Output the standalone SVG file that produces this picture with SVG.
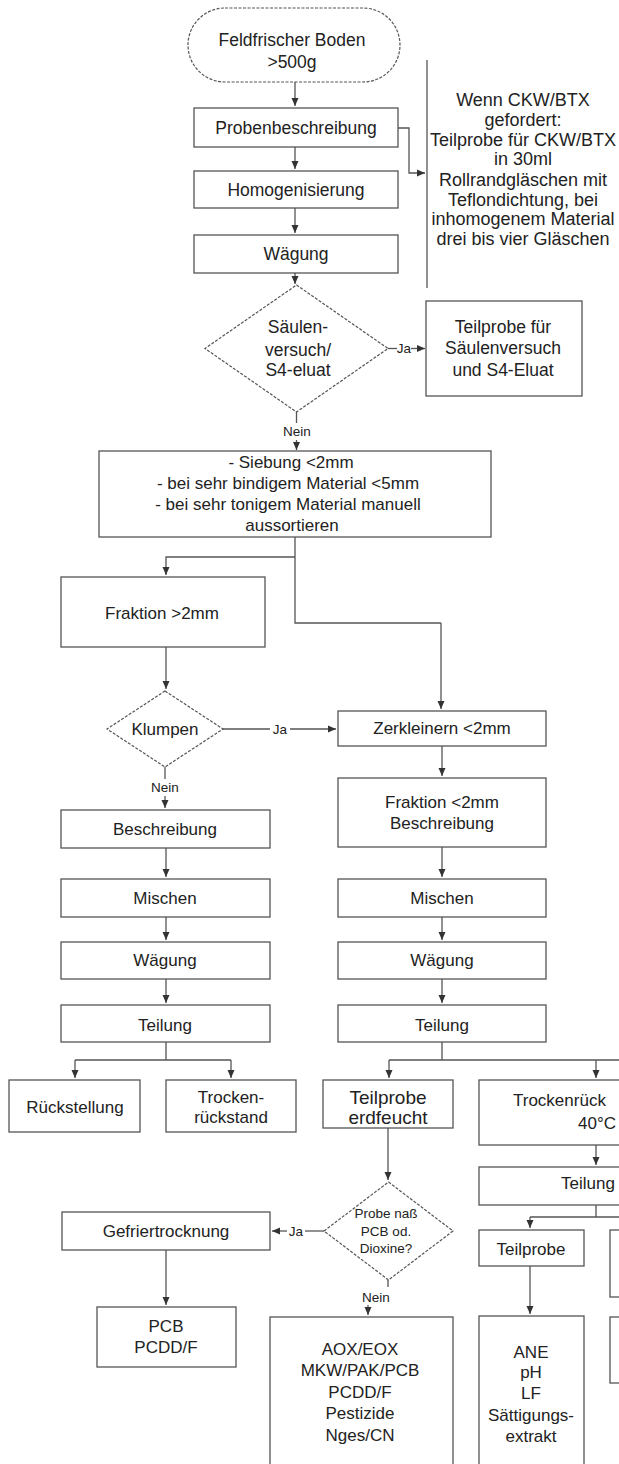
<svg xmlns="http://www.w3.org/2000/svg" width="619" height="1464" viewBox="0 0 619 1464">
<style>
  .b{fill:#fff;stroke:#555;stroke-width:1.3}
  .d{fill:#fff;stroke:#555;stroke-width:1.2;stroke-dasharray:3 1.5}
  .c{fill:none;stroke:#555;stroke-width:1.3}
  .a{marker-end:url(#ah)}
  text{font-family:"Liberation Sans",Arial,sans-serif;fill:#222;text-anchor:middle}
  .t{font-size:17px}
  .tl{font-size:17.5px}
  .tn{font-size:18px}
  .ts{font-size:13.5px}
  .tm{font-size:19px}
  .st{text-anchor:start}
</style>
<defs>
  <marker id="ah" markerUnits="userSpaceOnUse" markerWidth="8" markerHeight="8" refX="8" refY="4" orient="auto">
    <path d="M0,0.5 L8,4 L0,7.5 z" fill="#333"/>
  </marker>
</defs>
<rect width="619" height="1464" fill="#fff"/>

<g id="connectors">
  <path class="c a" d="M295,82 V106"/>
  <path class="c a" d="M295,147 V169"/>
  <path class="c a" d="M295,208 V233"/>
  <path class="c a" d="M295,273 V284"/>
  <path class="c a" d="M398,128 H409 V173 H425"/>
  <path class="c" d="M388,348.5 H397"/>
  <path class="c a" d="M411,348.5 H425"/>
  <path class="c" d="M296.5,412 V423"/>
  <path class="c a" d="M296.5,440 V450"/>
  <path class="c" d="M295,537 V623 H441"/>
  <path class="c a" d="M295,557 H166 V575"/>
  <path class="c a" d="M441,623 V709"/>
  <path class="c a" d="M166,647 V689"/>
  <path class="c" d="M223,729 H270"/>
  <path class="c a" d="M290,729 H336"/>
  <path class="c" d="M165,767 V779"/>
  <path class="c a" d="M165,796 V808"/>
  <path class="c a" d="M442,746 V776"/>
  <path class="c a" d="M166,848 V877"/>
  <path class="c a" d="M442,847 V877"/>
  <path class="c a" d="M166,917 V940"/>
  <path class="c a" d="M442,917 V940"/>
  <path class="c a" d="M166,979 V1003"/>
  <path class="c a" d="M442,979 V1003"/>
  <path class="c" d="M166,1042 V1060 M75,1060 H231"/>
  <path class="c a" d="M75,1060 V1078"/>
  <path class="c a" d="M231,1060 V1078"/>
  <path class="c" d="M442,1042 V1060 M389,1060 H619"/>
  <path class="c a" d="M389,1060 V1078"/>
  <path class="c a" d="M596,1060 V1078"/>
  <path class="c a" d="M596,1145 V1165"/>
  <path class="c" d="M596,1205 V1217 M530,1217 H619"/>
  <path class="c a" d="M530,1217 V1228"/>
  <path class="c a" d="M530,1266 V1314"/>
  <path class="c a" d="M388,1128 V1180"/>
  <path class="c" d="M324,1231 H305"/>
  <path class="c a" d="M287,1231 H272"/>
  <path class="c" d="M388,1280 V1287"/>
  <path class="c a" d="M368,1305 V1315"/>
  <path class="c a" d="M166,1250 V1305"/>
  <text class="ts" x="404" y="353">Ja</text>
  <text class="ts" x="297" y="436">Nein</text>
  <text class="ts" x="280" y="734">Ja</text>
  <text class="ts" x="165" y="792">Nein</text>
  <text class="ts" x="296" y="1236">Ja</text>
  <text class="ts" x="376" y="1302">Nein</text>
</g>

<g id="start">
  <rect class="d" x="188" y="8" width="212" height="74" rx="37" ry="37"/>
  <text class="tl" x="292" y="46">Feldfrischer Boden</text>
  <text class="tl" x="292" y="68">&gt;500g</text>
</g>
<g id="probenbeschreibung">
  <rect class="b" x="194" y="108" width="204" height="39"/>
  <text class="tl" x="296" y="134">Probenbeschreibung</text>
</g>
<g id="homogenisierung">
  <rect class="b" x="194" y="171" width="204" height="37"/>
  <text class="tl" x="296" y="196">Homogenisierung</text>
</g>
<g id="waegung1">
  <rect class="b" x="194" y="235" width="204" height="38"/>
  <text class="tl" x="296" y="260">Wägung</text>
</g>
<g id="note-ckw">
  <path class="c" d="M427,60 V288"/>
  <text class="tn" x="523" y="106">Wenn CKW/BTX</text>
  <text class="tn" x="523" y="126">gefordert:</text>
  <text class="tn" x="523" y="146">Teilprobe für CKW/BTX</text>
  <text class="tn" x="523" y="165">in 30ml</text>
  <text class="tn" x="523" y="186">Rollrandgläschen mit</text>
  <text class="tn" x="523" y="206">Teflondichtung, bei</text>
  <text class="tn" x="523" y="225">inhomogenem Material</text>
  <text class="tn" x="523" y="245">drei bis vier Gläschen</text>
</g>
<g id="saeulen-diamond">
  <polygon class="d" points="296.5,285 388,348.5 296.5,412 205,348.5"/>
  <text class="tl" x="298" y="333">Säulen-</text>
  <text class="tl" x="298" y="356">versuch/</text>
  <text class="tl" x="298" y="376">S4-eluat</text>
</g>
<g id="teilprobe-saeule">
  <rect class="b" x="426" y="301" width="156" height="95"/>
  <text class="tl" x="503" y="333">Teilprobe für</text>
  <text class="tl" x="503" y="354">Säulenversuch</text>
  <text class="tl" x="503" y="376">und S4-Eluat</text>
</g>
<g id="siebung">
  <rect class="b" x="99" y="451" width="392" height="86"/>
  <text class="t" x="291" y="468">- Siebung  &lt;2mm</text>
  <text class="t" x="288" y="489">- bei sehr bindigem Material &lt;5mm</text>
  <text class="t" x="288" y="510">- bei sehr tonigem Material manuell</text>
  <text class="t" x="292" y="531">aussortieren</text>
</g>
<g id="fraktion-gross">
  <rect class="b" x="61" y="577" width="204" height="70"/>
  <text class="t" x="162" y="619">Fraktion &gt;2mm</text>
</g>
<g id="klumpen">
  <polygon class="d" points="165,691 223,729 165,767 107,729"/>
  <text class="t" x="165" y="735">Klumpen</text>
</g>
<g id="zerkleinern">
  <rect class="b" x="338" y="711" width="208" height="35"/>
  <text class="t" x="442" y="734">Zerkleinern &lt;2mm</text>
</g>
<g id="fraktion-klein">
  <rect class="b" x="338" y="778" width="208" height="69"/>
  <text class="t" x="442" y="808">Fraktion &lt;2mm</text>
  <text class="t" x="442" y="829">Beschreibung</text>
</g>
<g id="beschreibung">
  <rect class="b" x="61" y="810" width="209" height="38"/>
  <text class="t" x="165" y="835">Beschreibung</text>
</g>
<g id="mischen-l">
  <rect class="b" x="61" y="879" width="209" height="38"/>
  <text class="t" x="165" y="904">Mischen</text>
</g>
<g id="mischen-r">
  <rect class="b" x="338" y="879" width="208" height="38"/>
  <text class="t" x="442" y="904">Mischen</text>
</g>
<g id="waegung-l">
  <rect class="b" x="61" y="942" width="209" height="37"/>
  <text class="t" x="165" y="966">Wägung</text>
</g>
<g id="waegung-r">
  <rect class="b" x="338" y="942" width="208" height="37"/>
  <text class="t" x="442" y="966">Wägung</text>
</g>
<g id="teilung-l">
  <rect class="b" x="61" y="1005" width="209" height="37"/>
  <text class="t" x="165" y="1031">Teilung</text>
</g>
<g id="teilung-r">
  <rect class="b" x="338" y="1005" width="208" height="37"/>
  <text class="t" x="442" y="1031">Teilung</text>
</g>
<g id="rueckstellung">
  <rect class="b" x="9" y="1080" width="131" height="52"/>
  <text class="t" x="75" y="1113">Rückstellung</text>
</g>
<g id="trockenrueckstand-l">
  <rect class="b" x="166" y="1080" width="130" height="52"/>
  <text class="t" x="231" y="1103">Trocken-</text>
  <text class="t" x="231" y="1123">rückstand</text>
</g>
<g id="teilprobe-erdfeucht">
  <rect class="b" x="323" y="1080" width="130" height="48"/>
  <text class="tm" x="388" y="1104">Teilprobe</text>
  <text class="tm" x="388" y="1124">erdfeucht</text>
</g>
<g id="trockenrueckstand-r">
  <rect class="b" x="479" y="1080" width="170" height="65"/>
  <text class="t st" x="513" y="1106">Trockenrück</text>
  <text class="t st" x="578" y="1129">40°C</text>
</g>
<g id="teilung-rr">
  <rect class="b" x="479" y="1167" width="170" height="38"/>
  <text class="t st" x="561" y="1189">Teilung</text>
</g>
<g id="probe-nass">
  <polygon class="d" points="388.5,1182 453,1231 388.5,1280 324,1231"/>
  <text class="ts" x="386" y="1218">Probe naß</text>
  <text class="ts" x="386" y="1236">PCB od.</text>
  <text class="ts" x="386" y="1253">Dioxine?</text>
</g>
<g id="gefriertrocknung">
  <rect class="b" x="62" y="1212" width="208" height="38"/>
  <text class="t" x="166" y="1237">Gefriertrocknung</text>
</g>
<g id="pcb">
  <rect class="b" x="97" y="1307" width="139" height="60"/>
  <text class="t" x="166" y="1332">PCB</text>
  <text class="t" x="166" y="1353">PCDD/F</text>
</g>
<g id="aox">
  <rect class="b" x="270" y="1317" width="183" height="160"/>
  <text class="t" x="360" y="1355">AOX/EOX</text>
  <text class="t" x="360" y="1376">MKW/PAK/PCB</text>
  <text class="t" x="360" y="1398">PCDD/F</text>
  <text class="t" x="360" y="1419">Pestizide</text>
  <text class="t" x="360" y="1441">Nges/CN</text>
</g>
<g id="teilprobe-r">
  <rect class="b" x="479" y="1230" width="105" height="36"/>
  <text class="t" x="531" y="1255">Teilprobe</text>
</g>
<g id="ane">
  <rect class="b" x="479" y="1316" width="105" height="160"/>
  <text class="t" x="531" y="1358">ANE</text>
  <text class="t" x="531" y="1378">pH</text>
  <text class="t" x="531" y="1399">LF</text>
  <text class="t" x="531" y="1421">Sättigungs-</text>
  <text class="t" x="531" y="1442">extrakt</text>
</g>
<g id="box-rr1">
  <rect class="b" x="610" y="1230" width="40" height="67"/>
</g>
<g id="box-rr2">
  <rect class="b" x="610" y="1317" width="40" height="66"/>
</g>
</svg>
